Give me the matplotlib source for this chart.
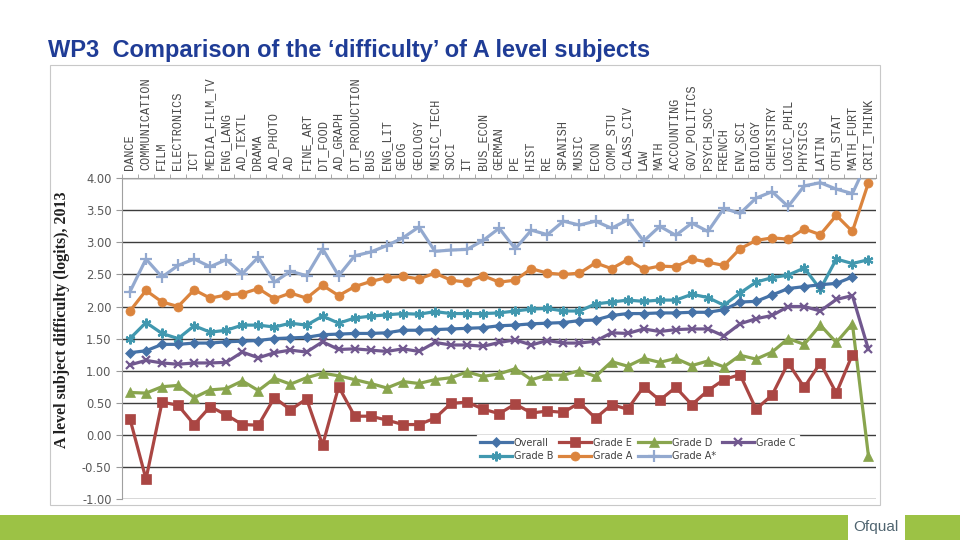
import numpy as np
import matplotlib
matplotlib.use("Agg")
import matplotlib.pyplot as plt
from matplotlib.patches import Rectangle

# Subjects, ordered as in the chart
subjects = ['DANCE', 'COMMUNICATION', 'FILM', 'ELECTRONICS', 'ICT', 'MEDIA_FILM_TV',
            'ENG_LANG', 'AD_TEXTL', 'DRAMA', 'AD_PHOTO', 'AD', 'FINE_ART', 'DT_FOOD',
            'AD_GRAPH', 'DT_PRODUCTION', 'BUS', 'ENG_LIT', 'GEOG', 'GEOLOGY',
            'MUSIC_TECH', 'SOCI', 'IT', 'BUS_ECON', 'GERMAN', 'PE', 'HIST', 'RE',
            'SPANISH', 'MUSIC', 'ECON', 'COMP_STU', 'CLASS_CIV', 'LAW', 'MATH',
            'ACCOUNTING', 'GOV_POLITICS', 'PSYCH_SOC', 'FRENCH', 'ENV_SCI', 'BIOLOGY',
            'CHEMISTRY', 'LOGIC_PHIL', 'PHYSICS', 'LATIN', 'OTH_STAT', 'MATH_FURT',
            'CRIT_THINK']

nan = np.nan
overall = [1.28, 1.31, 1.41, 1.41, 1.43, 1.43, 1.45, 1.46, 1.47, 1.50, 1.51, 1.52,
           1.56, 1.57, 1.58, 1.58, 1.59, 1.63, 1.63, 1.64, 1.65, 1.66, 1.67, 1.70,
           1.71, 1.73, 1.74, 1.75, 1.78, 1.79, 1.86, 1.89, 1.89, 1.90, 1.90, 1.91,
           1.91, 1.95, 2.07, 2.08, 2.18, 2.28, 2.31, 2.34, 2.36, 2.46, nan]
grade_e = [0.25, -0.69, 0.51, 0.46, 0.16, 0.44, 0.31, 0.16, 0.15, 0.58, 0.39, 0.56,
           -0.16, 0.75, 0.29, 0.29, 0.23, 0.16, 0.16, 0.26, 0.49, 0.51, 0.40, 0.33,
           0.48, 0.34, 0.37, 0.35, 0.50, 0.26, 0.47, 0.40, 0.75, 0.54, 0.74, 0.47,
           0.69, 0.86, 0.94, 0.40, 0.62, 1.12, 0.74, 1.12, 0.65, 1.25, nan]
grade_d = [0.66, 0.65, 0.75, 0.77, 0.58, 0.70, 0.72, 0.84, 0.69, 0.88, 0.79, 0.89,
           0.96, 0.92, 0.86, 0.80, 0.73, 0.83, 0.80, 0.86, 0.89, 0.98, 0.91, 0.95,
           1.03, 0.86, 0.93, 0.93, 1.00, 0.91, 1.14, 1.07, 1.19, 1.13, 1.19, 1.08,
           1.15, 1.06, 1.24, 1.18, 1.29, 1.50, 1.41, 1.71, 1.44, 1.73, -0.33]
grade_c = [1.09, 1.16, 1.12, 1.10, 1.12, 1.12, 1.13, 1.29, 1.20, 1.28, 1.32, 1.29,
           1.45, 1.33, 1.34, 1.32, 1.30, 1.34, 1.30, 1.44, 1.40, 1.40, 1.38, 1.44,
           1.48, 1.40, 1.47, 1.43, 1.43, 1.46, 1.59, 1.58, 1.65, 1.61, 1.64, 1.65,
           1.65, 1.54, 1.73, 1.81, 1.86, 2.00, 2.00, 1.93, 2.11, 2.17, 1.33]
grade_b = [1.50, 1.75, 1.58, 1.50, 1.70, 1.60, 1.63, 1.71, 1.71, 1.68, 1.74, 1.71,
           1.85, 1.74, 1.82, 1.85, 1.87, 1.89, 1.88, 1.92, 1.89, 1.89, 1.89, 1.90,
           1.93, 1.96, 1.97, 1.93, 1.93, 2.04, 2.07, 2.10, 2.08, 2.10, 2.10, 2.19,
           2.14, 2.02, 2.21, 2.38, 2.45, 2.49, 2.60, 2.27, 2.74, 2.67, 2.73]
grade_a = [1.93, 2.25, 2.07, 2.00, 2.26, 2.13, 2.18, 2.20, 2.28, 2.12, 2.21, 2.13,
           2.33, 2.17, 2.31, 2.39, 2.45, 2.47, 2.43, 2.52, 2.41, 2.38, 2.48, 2.38,
           2.41, 2.59, 2.52, 2.50, 2.52, 2.68, 2.59, 2.73, 2.58, 2.63, 2.62, 2.74,
           2.69, 2.64, 2.90, 3.03, 3.07, 3.05, 3.21, 3.12, 3.42, 3.17, 3.93]
grade_astar = [2.23, 2.74, 2.46, 2.64, 2.74, 2.62, 2.73, 2.51, 2.77, 2.38, 2.55, 2.48,
               2.90, 2.48, 2.79, 2.85, 2.95, 3.07, 3.24, 2.86, 2.88, 2.89, 3.03, 3.22,
               2.90, 3.19, 3.12, 3.33, 3.27, 3.33, 3.22, 3.35, 3.02, 3.25, 3.11, 3.30,
               3.17, 3.53, 3.45, 3.69, 3.79, 3.56, 3.88, 3.93, 3.83, 3.76, 4.30]

# name, values, colour, marker, marker size
series = [
    ('Overall', overall, '#4572A7', 'D', 5.5),
    ('Grade B', grade_b, '#4198AF', (6, 2, 0), 7),
    ('Grade E', grade_e, '#AA4643', 's', 6.5),
    ('Grade A', grade_a, '#DB843D', 'o', 6.5),
    ('Grade D', grade_d, '#89A54E', '^', 6.5),
    ('Grade A*', grade_astar, '#93A9CF', '+', 8),
    ('Grade C', grade_c, '#71588F', 'x', 5.5),
]
draw_order = ['Grade A*', 'Grade A', 'Grade B', 'Overall', 'Grade C', 'Grade D', 'Grade E']

fig = plt.figure(figsize=(9.6, 5.4), dpi=100)
fig.patch.set_facecolor('white')

# chart frame
fig.patches.append(Rectangle((50 / 960, 1 - 505 / 540), 830 / 960, 440 / 540,
                             transform=fig.transFigure, fill=False,
                             edgecolor='#C8C8C8', lw=0.8))

ax = fig.add_axes([0.127, 0.076, 0.786, 0.594])
x = np.arange(len(subjects))

lines = {}
for name, vals, col, mk, ms in series:
    mew = 1.6 if mk in ('x', '+') or isinstance(mk, tuple) else 0.5
    ln, = ax.plot(x, vals, color=col, lw=2.3, marker=mk, markersize=ms,
                  markeredgewidth=mew, markeredgecolor=col, label=name,
                  zorder=3 + draw_order.index(name) * 0.1)
    lines[name] = ln

ax.set_xlim(-0.5, len(subjects) - 0.5)
ax.set_ylim(-1.0, 4.0)
ax.set_yticks(np.arange(-1.0, 4.01, 0.5))
ax.set_yticklabels(['%.2f' % v for v in np.arange(-1.0, 4.01, 0.5)])
ax.yaxis.grid(True, color='#3C3C3C', lw=1.0)
ax.set_axisbelow(True)

ax.xaxis.tick_top()
ax.set_xticks(x)
ax.set_xticklabels(subjects, rotation=90, fontsize=8.6, color='#4A4A4A',
                   family='Liberation Mono')
ax.set_xticks(np.arange(-0.5, len(subjects), 1), minor=True)
ax.tick_params(axis='x', which='major', length=0, pad=6)
ax.tick_params(axis='x', which='minor', length=3, color='#9A9A9A', top=True, bottom=False)
ax.tick_params(axis='y', length=4, color='#9A9A9A', labelsize=8.3, labelcolor='#595959')

for s in ['right', 'bottom']:
    ax.spines[s].set_visible(False)
ax.spines['top'].set_color('#A0A0A0')
ax.spines['left'].set_color('#A0A0A0')

leg = ax.legend(handles=[lines[n] for n, *_ in series], ncol=4,
                loc='upper left', bbox_to_anchor=(0.464, 0.215), frameon=True,
                fancybox=False, edgecolor='white', facecolor='white', framealpha=1,
                fontsize=7.0, handlelength=3.3, columnspacing=0.6, handletextpad=0.2,
                borderpad=0.3, labelspacing=0.35)
for t in leg.get_texts():
    t.set_color('#404040')
leg.set_zorder(10)

fig.text(62 / 960, 1 - 320 / 540, 'A level subject difficulty (logits), 2013',
         rotation=90, ha='center', va='center', fontsize=11.5,
         family='Liberation Serif', fontweight='bold', color='#202020')

fig.text(48 / 960, 1 - 50 / 540, 'WP3  Comparison of the \u2018difficulty\u2019 of A level subjects',
         ha='left', va='center', fontsize=17, family='Liberation Sans',
         fontweight='bold', color='#1F3C96')

# footer band with logo
fig.patches.append(Rectangle((0, 0), 1, 25 / 540, transform=fig.transFigure,
                             color='#9CC245', lw=0))
fig.patches.append(Rectangle((848 / 960, 0), 57 / 960, 25 / 540,
                             transform=fig.transFigure, color='white', lw=0))
fig.text(876 / 960, 13 / 540, 'Ofqual', ha='center', va='center', fontsize=11,
         family='Liberation Sans', color='#4F6470')

fig.savefig('out.png', dpi=100, facecolor='white')
